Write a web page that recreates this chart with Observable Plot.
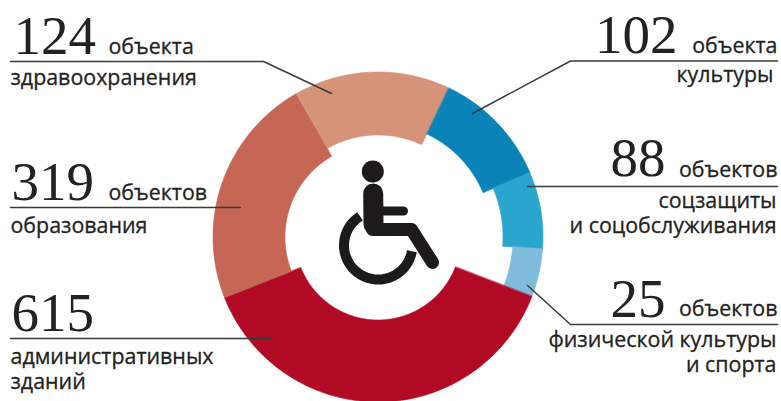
<!DOCTYPE html>
<html lang="ru">
<head>
<meta charset="utf-8">
<script src="https://cdn.jsdelivr.net/npm/d3@7"></script>
<script src="https://cdn.jsdelivr.net/npm/@observablehq/plot@0.6"></script>
<style>
html,body{margin:0;padding:0;background:#fff;overflow:hidden}
svg{display:block}
</style>
</head>
<body>
<script>
// ---- chart values, clockwise from the upper left
const counts = ["124", "102", "88", "25", "615", "319"];
const units = ["объекта", "объекта", "объектов", "объектов", "", "объектов"];
const captions = [
  ["здравоохранения"],
  ["культуры"],
  ["соцзащиты", "и соцобслуживания"],
  ["физической культуры", "и спорта"],
  ["административных", "зданий"],
  ["образования"]
];
// sweep of each slice (degrees) and band thickness
const sweeps = [55, 41.7, 27.1, 16.9, 137.4, 81.7];
const bands = [63, 51, 40, 30, 82, 72];
const colors = ["#d5937a", "#0a84b8", "#2aa5d0", "#7fbbdb", "#b20a25", "#c66655"];

// ---- layout
const centre = [377.5, 236.5], outer = 165, startAngle = -29.6;
const polar = (deg, r) => {
  const a = deg * Math.PI / 180;
  return [centre[0] + r * Math.sin(a), centre[1] - r * Math.cos(a)];
};
const side = ["start", "end", "end", "end", "start", "start"];
const numberX = [13, 677, 665, 665, 11, 11];
const numberY = [53, 52, 175, 316, 330, 199];
const unitX = [108, 777, 777, 777, 0, 108];
const unitY = [53, 52, 176, 315, 0, 199];
const captionX = [10, 773, 776, 776, 10, 10];
const captionY = [84, 81, 207, 346, 363, 232];
const captionStep = 25.5;
const leaders = [
  [[10, 61], [263, 61], [331, 93]],
  [[777, 60.5], [570, 60.5], [472, 113]],
  [[777, 186], [527, 186]],
  [[777, 324], [570, 324], [527, 285]],
  [[10, 338], [270, 338]],
  [[10, 207], [240, 207]]
];

// ---- derived tables
let acc = startAngle;
const slices = counts.map((c, i) => {
  const a0 = acc, a1 = acc + sweeps[i]; acc = a1;
  const inner = outer - bands[i];
  const n = Math.ceil(sweeps[i]);
  const t = d3.range(n + 1).map(k => a0 + (a1 - a0) * k / n);
  const ring = [...t.map(d => polar(d, outer)), ...t.slice().reverse().map(d => polar(d, inner))];
  return {
    name: c, type: "Feature", properties: {},
    geometry: {type: "Polygon", coordinates: [[...ring, ring[0]]]}
  };
});
const numbers = counts.map((text, i) => ({text, x: numberX[i], y: numberY[i], anchor: side[i]}));
const unitRows = units.map((text, i) => ({text, x: unitX[i], y: unitY[i], anchor: side[i]})).filter(d => d.text);
const captionRows = captions.flatMap((rows, i) =>
  rows.map((text, k) => ({text, x: captionX[i], y: captionY[i] + k * captionStep, anchor: side[i]})));
const leaderRows = leaders.flatMap((pts, i) => pts.map(([x, y]) => ({x, y, id: i})));

// ---- wheelchair pictogram
const head = [{x: 372.3, y: 171}];
const torso = [{x: 372.7, y: 193}, {x: 373, y: 224}];
const arm = [{x: 376, y: 210.5}, {x: 403, y: 210.5}];
const leg = [{x: 372, y: 229}, {x: 411, y: 229}, {x: 432, y: 262}];
const wheel = d3.range(100, 329, 4).map(d => {
  const a = d * Math.PI / 180;
  return {x: 377.7 + 34.2 * Math.sin(a), y: 244.8 - 34.2 * Math.cos(a)};
});
const ink = "#1d1a1b";
const limb = (data, strokeWidth, cap) => Plot.line(data, {x: "x", y: "y", stroke: ink, strokeWidth, strokeLinecap: cap, strokeLinejoin: "round", curve: "linear"});
const labelMarks = (data, font) => ["start", "end"].map(anchor => Plot.text(data.filter(d => d.anchor === anchor), {
  x: "x", y: "y", text: "text", textAnchor: anchor, lineAnchor: "bottom", fill: "#222", ...font
}));
const sans = {fontFamily: "Open Sans", fontSize: 21.4, stroke: "#222", strokeWidth: 0.3};

const plot = Plot.plot({
  width: 781, height: 401, margin: 0,
  projection: d3.geoIdentity(),
  color: {domain: counts, range: colors},
  marks: [
    Plot.geo(slices, {fill: d => d.name, stroke: d => d.name, strokeWidth: 0.6}),
    Plot.line(leaderRows, {x: "x", y: "y", z: "id", stroke: "#3a3a3a", strokeWidth: 1.5, curve: "linear"}),
    limb(wheel, 10, "butt"),
    limb(torso, 20, "round"),
    limb(arm, 9, "round"),
    limb(leg, 13, "round"),
    Plot.dot(head, {x: "x", y: "y", r: 11, fill: ink}),
    labelMarks(numbers, {fontFamily: "Liberation Serif", fontSize: 55}),
    labelMarks(unitRows, sans),
    labelMarks(captionRows, sans)
  ]
});
document.body.append(plot);
</script>
</body>
</html>
